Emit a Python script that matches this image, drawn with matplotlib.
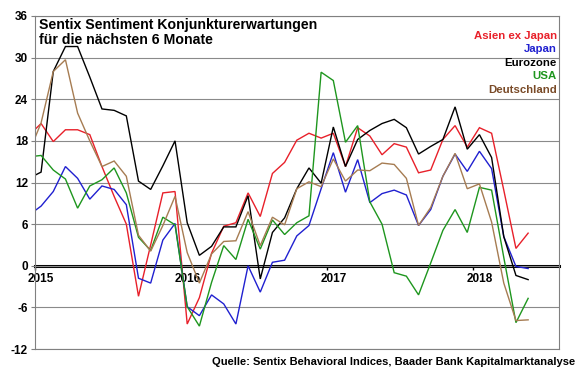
import numpy as np
import matplotlib
matplotlib.use('Agg')
import matplotlib.pyplot as plt

plt.rcParams['font.family'] = ['Liberation Sans', 'DejaVu Sans']

# monthly values, Dec 2014 .. May 2018 (Dec 2014 is clipped at the left edge)
months = np.arange(-1, 41) + 0.5   # month index, 0 = Jan 2015 tick

asien = [18.8, 20.5, 17.9, 19.6, 19.6, 18.9, 14.3, 10.0, 6.0, -4.4, 3.0, 10.5, 10.7,
         -8.4, -4.6, 1.8, 5.7, 6.2, 10.5, 7.1, 13.3, 14.9, 18.1, 19.1, 18.4,
         19.1, 14.3, 19.9, 18.7, 16.0, 17.6, 17.1, 13.4, 13.8, 18.2, 20.2, 17.1,
         19.9, 19.1, 10.9, 2.5, 4.7]
japan = [7.3, 8.6, 10.7, 14.3, 12.6, 9.6, 11.5, 11.0, 8.8, -1.8, -2.5, 3.7, 6.1,
         -5.9, -7.2, -4.2, -5.5, -8.4, 0.0, -3.8, 0.5, 0.8, 4.3, 5.8, 11.1,
         16.3, 10.6, 15.3, 9.1, 10.4, 10.9, 10.2, 5.8, 8.1, 12.9, 16.1, 13.6,
         16.5, 14.0, 4.2, -0.1, -0.4]
eurozone = [12.6, 13.5, 28.0, 31.6, 31.6, 27.2, 22.6, 22.4, 21.6, 12.2, 11.0, 14.4, 18.0,
            6.2, 1.5, 2.8, 5.6, 5.6, 10.1, -1.9, 4.8, 6.9, 11.1, 14.1, 11.9,
            20.0, 14.3, 18.2, 19.5, 20.5, 21.1, 19.9, 16.1, 17.2, 18.2, 22.9, 16.8,
            18.9, 15.6, 4.2, -1.4, -2.0]
usa = [15.7, 15.9, 13.8, 12.5, 8.3, 11.5, 12.4, 14.1, 10.5, 4.1, 2.2, 7.0, 5.9,
       -5.9, -8.7, -2.4, 2.9, 0.9, 6.7, 2.4, 6.6, 4.5, 6.2, 7.2, 27.9,
       26.7, 17.8, 20.2, 9.2, 6.0, -1.0, -1.5, -4.2, 0.4, 5.1, 8.1, 4.8,
       11.3, 10.9, 1.2, -8.2, -4.7]
deutschland = [16.3, 20.6, 28.0, 29.7, 22.0, 18.0, 14.3, 15.1, 12.9, 4.4, 2.1, 5.8, 10.0,
               1.9, -2.5, 1.7, 3.5, 3.6, 7.8, 2.9, 7.0, 5.9, 11.1, 12.1, 11.4,
               15.4, 12.2, 13.8, 13.7, 14.8, 14.6, 12.6, 5.8, 8.4, 12.9, 16.2, 11.1,
               11.8, 6.3, -2.5, -7.9, -7.8]

year_ticks = [0, 12, 24, 36]
year_labels = ['2015', '2016', '2017', '2018']
y_ticks = [-12, -6, 0, 6, 12, 18, 24, 30, 36]

series = [
    ('Asien ex Japan', asien, '#e8202a', '#e8202a'),
    ('Japan', japan, '#2020d0', '#2020d0'),
    ('Eurozone', eurozone, '#000000', '#000000'),
    ('USA', usa, '#1e961e', '#1e961e'),
    ('Deutschland', deutschland, '#a67c52', '#7a4b28'),
]

fig = plt.figure(figsize=(5.8, 3.74), dpi=100)
ax = fig.add_axes([35 / 580, 1 - 349 / 374, 524.3 / 580, 333 / 374])

for name, vals, col, _ in series:
    ax.plot(months, vals, color=col, lw=1.0, solid_joinstyle='miter')

ax.set_xlim(0, 43.06)
ax.set_ylim(-12, 36)
ax.set_yticks(y_ticks)
ax.set_yticklabels([str(v) for v in y_ticks], fontsize=8.5, fontweight='bold')
ax.tick_params(axis='y', length=3, width=0.8, color='#808080', pad=2)
ax.set_xticks([])
ax.grid(axis='y', color='#8a8a8a', lw=0.8)
ax.set_axisbelow(True)
for s in ax.spines.values():
    s.set_color('#808080')
    s.set_linewidth(0.8)

# zero line with year labels
sec = ax.secondary_xaxis(12 / 48)
sec.spines['bottom'].set_linewidth(2.2)
sec.spines['bottom'].set_color('black')
sec.set_xticks(year_ticks)
sec.set_xticklabels([])
sec.set_xticks([t + 0.5 for t in year_ticks], minor=True)
sec.set_xticklabels(year_labels, minor=True, fontsize=8.5, fontweight='bold')
sec.tick_params(axis='x', which='major', length=3, width=1.0, color='black')
sec.tick_params(axis='x', which='minor', length=0, pad=5)

ax.text(0.0076, 0.993, 'Sentix Sentiment Konjunkturerwartungen\nfür die nächsten 6 Monate',
        transform=ax.transAxes, ha='left', va='top', fontsize=10.2, fontweight='bold',
        linespacing=1.1)

ys = [0.941, 0.900, 0.860, 0.819, 0.778]
for (name, _, _, tcol), yy in zip(series, ys):
    ax.text(0.9956, yy, name, transform=ax.transAxes, ha='right', va='center',
            fontsize=8.2, fontweight='bold', color=tcol)

fig.text(575 / 580, 1 - 361.7 / 374, 'Quelle: Sentix Behavioral Indices, Baader Bank Kapitalmarktanalyse',
         ha='right', va='center', fontsize=8.0, fontweight='bold')

fig.savefig('out.png', dpi=100)
